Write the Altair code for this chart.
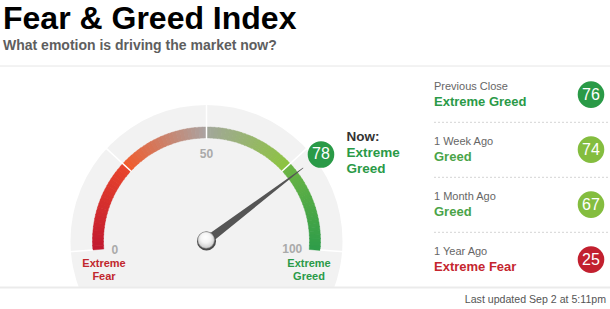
import math
import altair as alt
import pandas as pd

# ---------------- data ----------------
TITLE = "Fear & Greed Index"
SUBTITLE = "What emotion is driving the market now?"
NOW_VALUE = 78
NOW_LINES = ["Now:", "Extreme", "Greed"]
TICK_VALUES = [0, 50, 100]
TICK_LABELS = ["0", "50", "100"]
DIVIDER_VALUES = [0, 25, 50, 75, 100]
END_LABELS = [["Extreme", "Fear"], ["Extreme", "Greed"]]
HIST_LABELS = ["Previous Close", "1 Week Ago", "1 Month Ago", "1 Year Ago"]
HIST_RATINGS = ["Extreme Greed", "Greed", "Greed", "Extreme Fear"]
HIST_VALUES = [76, 74, 67, 25]
UPDATED = "Last updated Sep 2 at 5:11pm"

# ---------------- styling / layout ----------------
FONT = "Liberation Sans"
W, H = 610, 309
CX, CY = 206.5, 241.0
R_BG, R_OUT, R_IN = 136, 114, 103
START_DEG, SWEEP_DEG = 184.5, 189.0

CIRCLE_COL = {"Extreme Greed": "#2a9a47", "Greed": "#84bd3f", "Extreme Fear": "#c2202f"}
TEXT_COL = {"Extreme Greed": "#2a9a47", "Greed": "#4aa448", "Extreme Fear": "#c5262f"}
QUARTER_STOPS = [("#c1182f", "#e8452c"), ("#f15a2b", "#aaa4a2"),
                 ("#a2a69c", "#8cc43e"), ("#6cb444", "#2e9d49")]


def phi(v):
    return math.radians(START_DEG - SWEEP_DEG * v / 100)


def pt(v, r):
    a = phi(v)
    return CX + r * math.cos(a), CY - r * math.sin(a)


def vtheta(v):
    return math.radians(90 - START_DEG + SWEEP_DEG * v / 100)


def hexmix(c1, c2, t):
    a = [int(c1[i:i + 2], 16) for i in (1, 3, 5)]
    b = [int(c2[i:i + 2], 16) for i in (1, 3, 5)]
    return "#" + "".join(f"{round(x + (y - x) * t):02x}" for x, y in zip(a, b))


X = lambda f: alt.X(f, type="quantitative", scale=None, axis=None)
Y = lambda f: alt.Y(f, type="quantitative", scale=None, axis=None)


def text_layer(rows, **kw):
    df = pd.DataFrame(rows, columns=["x", "y", "text", "color"])
    props = dict(font=FONT, baseline="middle", align="left")
    props.update(kw)
    return alt.Chart(df).mark_text(**props).encode(
        x=X("x"), y=Y("y"), text="text:N",
        color=alt.Color("color:N", scale=None))


layers = []

# grey dial background
bg = pd.DataFrame({"t0": [0.0], "t1": [2 * math.pi], "r": [R_BG]})
layers.append(alt.Chart(bg).mark_arc(color="#f2f2f2").encode(
    theta=alt.Theta("t0:Q", scale=None), theta2="t1:Q",
    radius=alt.Radius("r:Q", scale=None),
    x=alt.value(CX), y=alt.value(CY)))
layers.append(alt.Chart(bg).mark_rect(color="white").encode(
    x=alt.value(0), x2=alt.value(420), y=alt.value(287), y2=alt.value(H)))

# horizontal rules
hl = pd.DataFrame({"x1": [0, 0], "x2": [W, W], "y": [66, 287.5],
                   "c": ["#e6e6e6", "#ebebeb"], "w": [1, 2]})
layers.append(alt.Chart(hl).mark_rule().encode(
    x=X("x1"), x2="x2:Q", y=Y("y"),
    color=alt.Color("c:N", scale=None),
    strokeWidth=alt.StrokeWidth("w:Q", scale=None)))

# gradient band
N = 24
segs = []
for q, (c1, c2) in enumerate(QUARTER_STOPS):
    for i in range(N):
        v0 = q * 25 + i * 25 / N
        v1 = v0 + 25 / N
        segs.append({"t0": vtheta(v0), "t1": vtheta(v1) + 0.004,
                     "c": hexmix(c1, c2, (i + 0.5) / N)})
segdf = pd.DataFrame(segs)
segdf["ro"] = R_OUT
segdf["ri"] = R_IN
layers.append(alt.Chart(segdf).mark_arc(strokeWidth=0.4).encode(
    theta=alt.Theta("t0:Q", scale=None), theta2="t1:Q",
    radius=alt.Radius("ro:Q", scale=None), radius2="ri:Q",
    color=alt.Color("c:N", scale=None), stroke=alt.Stroke("c:N", scale=None),
    x=alt.value(CX), y=alt.value(CY)))

# white dividers
div = []
for v in DIVIDER_VALUES:
    rin = R_OUT if v in (0, 100) else R_IN - 1
    x1, y1 = pt(v, rin)
    x2, y2 = pt(v, R_BG + 2)
    div.append({"x1": x1, "y1": y1, "x2": x2, "y2": y2})
layers.append(alt.Chart(pd.DataFrame(div)).mark_rule(color="white", strokeWidth=1.5).encode(
    x=X("x1"), y=Y("y1"), x2="x2:Q", y2="y2:Q"))

# tick labels
tick_r = [92, 88.5, 89]
ticks = []
for v, lab, r in zip(TICK_VALUES, TICK_LABELS, tick_r):
    x, y = pt(v, r)
    ticks.append([x - (3 if v == 100 else 0), y + 1.5, lab, "#aaaaaa"])
layers.append(text_layer(ticks, align="center", fontSize=12, fontWeight="bold"))

# extreme labels under the ends
end_rows = []
for side, (l1, l2), col in zip((-1, 1), END_LABELS, ("#c1272d", "#2a9a48")):
    x = CX + side * 102.5
    end_rows.append([x, 264.3, l1, col])
    end_rows.append([x, 276.7, l2, col])
layers.append(text_layer(end_rows, align="center", fontSize=11, fontWeight="bold"))

# needle
tx, ty = pt(NOW_VALUE, 121)
nd = pd.DataFrame({"x": [CX, tx], "y": [CY, ty], "s": [8.5, 0.6], "o": [0, 1]})
layers.append(alt.Chart(nd).mark_trail(color="#555555").encode(
    x=X("x"), y=Y("y"), size=alt.Size("s:Q", scale=None), order="o:Q"))

# hub
hub = pd.DataFrame({"x": [CX], "y": [CY]})
layers.append(alt.Chart(hub).mark_circle(color="#4a4a4a", opacity=1, size=math.pi * 10.8 ** 2).encode(
    x=X("x"), y=Y("y")))
grad = alt.RadialGradient(gradient="radial",
                          stops=[alt.GradientStop(color="#ffffff", offset=0),
                                 alt.GradientStop(color="#f4f4f4", offset=0.5),
                                 alt.GradientStop(color="#c4c4c4", offset=1)],
                          x1=0.45, y1=0.3, x2=0.5, y2=0.45, r1=0, r2=0.6)
hub2 = pd.DataFrame({"x": [CX - 0.4], "y": [CY - 1.0]})
layers.append(alt.Chart(hub2).mark_circle(fill=grad, opacity=1, stroke="#8a8a8a", strokeWidth=0.6,
                                          size=math.pi * 9.4 ** 2).encode(
    x=X("x"), y=Y("y")))

# current value bubble
bx, by = pt(NOW_VALUE, 143.5)
bub = pd.DataFrame({"x": [bx], "y": [by], "t": [str(NOW_VALUE)]})
layers.append(alt.Chart(bub).mark_circle(color=CIRCLE_COL["Extreme Greed"], opacity=1,
                                         size=math.pi * 15 ** 2).encode(x=X("x"), y=Y("y")))
layers.append(alt.Chart(bub).mark_text(font=FONT, fontSize=16, color="white", baseline="middle").encode(
    x=X("x"), y=Y("y"), text="t:N"))
nx = bx + 25.5
layers.append(text_layer([[nx, 137, NOW_LINES[0], "#333333"]], fontSize=13.5, fontWeight="bold"))
layers.append(text_layer([[nx, 153, NOW_LINES[1], TEXT_COL["Extreme Greed"]],
                          [nx, 168.5, NOW_LINES[2], TEXT_COL["Extreme Greed"]]],
                         fontSize=13.5, fontWeight="bold"))

# history panel
LX, CXR, ROW0, STEP = 434, 591, 87.3, 55.0
lab_rows, rat_rows, circ, dash = [], [], [], []
for i, (lab, rat, val) in enumerate(zip(HIST_LABELS, HIST_RATINGS, HIST_VALUES)):
    y0 = ROW0 + STEP * i
    lab_rows.append([LX, y0, lab, "#666666"])
    rat_rows.append([LX, y0 + 14.4, rat, TEXT_COL[rat]])
    circ.append({"x": CXR, "y": y0 + 7.3, "t": str(val), "c": CIRCLE_COL[rat]})
    if i < 3:
        dash.append({"x1": LX, "x2": W, "y": y0 + 35})
layers.append(text_layer(lab_rows, fontSize=11))
layers.append(text_layer(rat_rows, fontSize=13, fontWeight="bold"))
layers.append(alt.Chart(pd.DataFrame(dash)).mark_rule(color="#d4d4d4", strokeDash=[2, 2], strokeWidth=1).encode(
    x=X("x1"), x2="x2:Q", y=Y("y")))
cdf = pd.DataFrame(circ)
layers.append(alt.Chart(cdf).mark_circle(opacity=1, size=math.pi * 15 ** 2).encode(
    x=X("x"), y=Y("y"), color=alt.Color("c:N", scale=None)))
layers.append(alt.Chart(cdf).mark_text(font=FONT, fontSize=16, color="white", baseline="middle").encode(
    x=X("x"), y=Y("y"), text="t:N"))

# titles and footer
layers.append(text_layer([[3, 28.5, TITLE, "#000000"]], baseline="alphabetic", fontSize=32, fontWeight="bold"))
layers.append(text_layer([[3, 50.3, SUBTITLE, "#5e5e5e"]], baseline="alphabetic", fontSize=14, fontWeight="bold"))
layers.append(text_layer([[606, 300, UPDATED, "#555555"]], align="right", fontSize=10.6))

chart = alt.layer(*layers).properties(
    width=W, height=H, padding=0, autosize=alt.AutoSizeParams(type="none"),
    background="white"
).configure_view(stroke=None)

chart.save("out.html", embed_options={"renderer": "svg", "actions": False})
